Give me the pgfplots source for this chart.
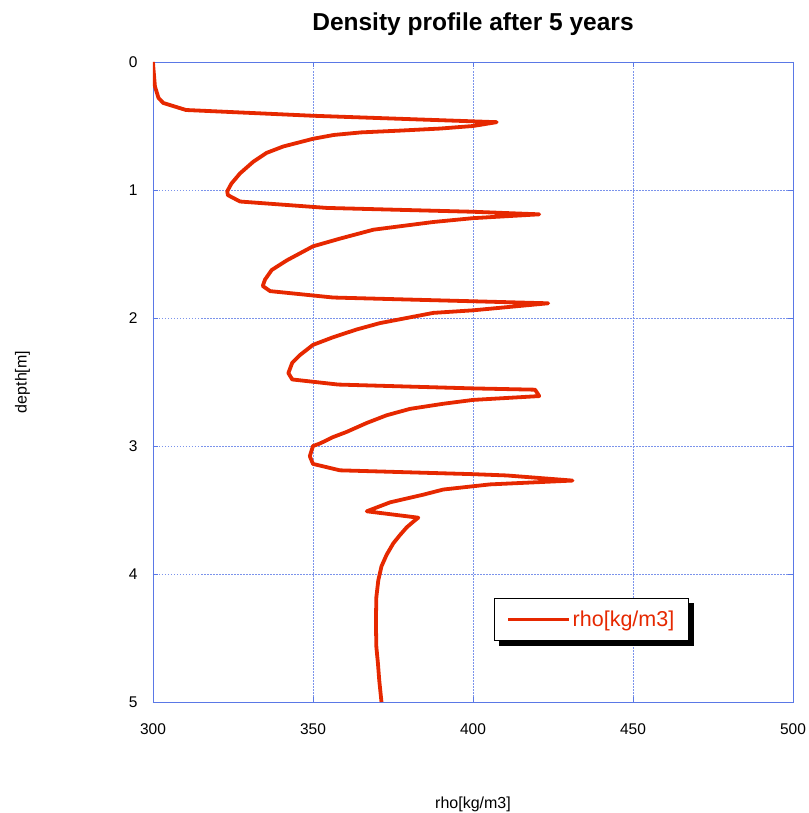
\documentclass[border=0pt]{standalone}
\usepackage{pgfplots}
\pgfplotsset{compat=1.18}
\usepackage{fontspec}
\setmainfont{Liberation Sans}
\definecolor{curve}{HTML}{E62800}
\definecolor{gridblue}{HTML}{5A78E6}
\begin{document}
\begin{tikzpicture}
\begin{axis}[
  scale only axis,
  width=640pt, height=640pt,
  xmin=300, xmax=500, ymin=0, ymax=5,
  y dir=reverse,
  xtick={300,350,400,450,500},
  ytick={0,1,2,3,4,5},
  grid=major,
  major grid style={gridblue!80, dash pattern=on 1.5pt off 1.5pt, line width=0.5pt},
  axis line style={gridblue, line width=0.8pt},
  tick style={gridblue, line width=0.6pt},
  major tick length=5pt,
  tick align=inside,
  /pgf/number format/assume math mode=true,
  tick label style={font=\fontsize{15.5}{17}\selectfont},
  xticklabel style={yshift=-18pt},
  yticklabel style={xshift=-12pt},
  title={\fontsize{24.5}{28}\selectfont\bfseries Density profile after 5 years},
  title style={yshift=17pt},
  xlabel={\fontsize{16}{18}\selectfont rho[kg/m3]},
  xlabel style={yshift=-56pt},
  ylabel={\fontsize{16}{18}\selectfont depth[m]},
  ylabel style={yshift=92pt},
  legend style={name=leg, at={(0.533,0.1625)}, anchor=north west, draw=black, line width=1.2pt,
    fill=white, font=\fontsize{21.5}{24}\selectfont, text=curve, inner xsep=12pt, inner ysep=10.5pt,
    /tikz/every even column/.append style={column sep=6pt}},
  legend image code/.code={\draw[#1, line width=3pt] (0pt,0pt) -- (61pt,0pt);},
  legend cell align=left,
]
\addplot[curve, line width=3.8pt, line join=round] coordinates {
(300.0,0.0) (300.1,0.04) (300.6,0.19) (301.7,0.28) (303.2,0.32) (310.3,0.375)
(350.0,0.42) (407.4,0.47) (400.0,0.50) (389.7,0.52) (377.2,0.536) (365.0,0.55) (356.5,0.57)
(350.0,0.60) (340.7,0.66) (335.5,0.71) (331.3,0.78) (327.2,0.87) (324.5,0.95)
(323.2,1.01) (323.4,1.04) (327.2,1.09) (354.3,1.14) (400.0,1.17)
(420.7,1.19) (400.0,1.22) (387.6,1.25) (368.9,1.31) (358.4,1.38) (350.0,1.44)
(341.8,1.55) (337.1,1.625) (335.0,1.70) (334.3,1.75) (336.6,1.79) (356.3,1.84)
(423.5,1.885) (400.0,1.94) (387.6,1.96) (370.9,2.04) (363.6,2.09) (356.3,2.15)
(350.0,2.21) (345.9,2.29) (343.5,2.35) (342.3,2.43) (343.5,2.48)
(357.9,2.52) (400.0,2.55) (419.4,2.56) (420.7,2.61) (400.0,2.64) (390.7,2.67)
(380.3,2.71) (373.0,2.76) (366.8,2.82) (360.5,2.89) (356.3,2.93) (352.2,2.98)
(350.0,3.00) (349.0,3.08) (350.0,3.14) (358.4,3.19)
(400.0,3.22) (410.5,3.23) (431.1,3.27) (405.3,3.30) (398.0,3.32) (390.7,3.34)
(384.5,3.38) (374.1,3.44) (366.8,3.51) (382.9,3.56) (381.4,3.59) (379.3,3.635)
(377.2,3.695) (375.1,3.76) (373.0,3.85) (371.4,3.94) (370.4,4.05) (369.8,4.18)
(369.7,4.31) (369.7,4.44) (369.8,4.57) (370.3,4.70) (370.7,4.83) (371.4,5.0)
};
\addlegendentry{rho[kg/m3]}
\end{axis}
\fill[black] ([yshift=-5pt]leg.north east) rectangle ([xshift=5pt,yshift=-5pt]leg.south east);
\fill[black] ([xshift=5pt]leg.south west) rectangle ([xshift=5pt,yshift=-5pt]leg.south east);
\pgfresetboundingbox
\path[use as bounding box] ([xshift=-153pt,yshift=-111pt]current axis.south west) rectangle ([xshift=15pt,yshift=62pt]current axis.north east);
\end{tikzpicture}
\end{document}
